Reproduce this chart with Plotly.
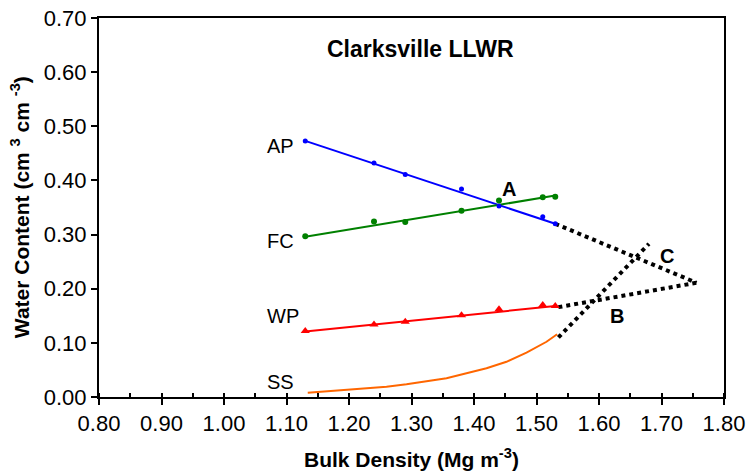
import plotly.graph_objects as go

# Bulk density of the measured samples
bd = [1.13, 1.24, 1.29, 1.38, 1.44, 1.51, 1.53]
ap_pts = [0.473, 0.432, 0.411, 0.384, 0.353, 0.333, 0.320]
fc_pts = [0.297, 0.324, 0.323, 0.344, 0.363, 0.369, 0.370]
wp_pts = [0.122, 0.134, 0.139, 0.151, 0.162, 0.170, 0.168]

# fitted lines (end points)
fit_x = [1.13, 1.53]
ap_fit = [0.473, 0.320]
fc_fit = [0.296, 0.372]
wp_fit = [0.121, 0.168]

# SS curve
ss_x = [1.134, 1.190, 1.228, 1.260, 1.292, 1.324, 1.356, 1.388, 1.420, 1.452, 1.484, 1.516, 1.533]
ss_y = [0.008, 0.013, 0.016, 0.019, 0.0235, 0.0296, 0.0345, 0.0438, 0.053, 0.065, 0.082, 0.102, 0.116]

# dotted extrapolations
ap_ext_x = [1.53, 1.756]
ap_ext_y = [0.320, 0.211]
wp_ext_x = [1.535, 1.756]
wp_ext_y = [0.166, 0.211]
ss_ext_x = [1.535, 1.680]
ss_ext_y = [0.110, 0.283]

# labels
series_labels = ["AP", "FC", "WP", "SS"]
series_label_y = [0.464, 0.289, 0.150, 0.028]
series_label_x = 1.066
point_labels = ["A", "B", "C"]
point_label_x = [1.456, 1.628, 1.709]
point_label_y = [0.385, 0.149, 0.260]

x_ticks = [0.80, 0.90, 1.00, 1.10, 1.20, 1.30, 1.40, 1.50, 1.60, 1.70, 1.80]
y_ticks = [0.00, 0.10, 0.20, 0.30, 0.40, 0.50, 0.60, 0.70]

FONT = "Liberation Sans, Arial, sans-serif"

fig = go.Figure()

# dotted extensions
for ex, ey in [(ap_ext_x, ap_ext_y), (wp_ext_x, wp_ext_y), (ss_ext_x, ss_ext_y)]:
    fig.add_trace(go.Scatter(x=ex, y=ey, mode="lines",
                             line=dict(color="black", width=4, dash="dot"),
                             showlegend=False, hoverinfo="skip"))

# SS curve
fig.add_trace(go.Scatter(x=ss_x, y=ss_y, mode="lines",
                         line=dict(color="#FF6600", width=2), showlegend=False))

# fitted lines
fig.add_trace(go.Scatter(x=fit_x, y=ap_fit, mode="lines", line=dict(color="#0000FF", width=2), showlegend=False))
fig.add_trace(go.Scatter(x=fit_x, y=fc_fit, mode="lines", line=dict(color="#008000", width=2), showlegend=False))
fig.add_trace(go.Scatter(x=fit_x, y=wp_fit, mode="lines", line=dict(color="#FF0000", width=2), showlegend=False))

# points
fig.add_trace(go.Scatter(x=bd, y=ap_pts, mode="markers",
                         marker=dict(color="#0000FF", size=5, symbol="circle"), showlegend=False))
fig.add_trace(go.Scatter(x=bd, y=fc_pts, mode="markers",
                         marker=dict(color="#008000", size=6, symbol="circle"), showlegend=False))
fig.add_trace(go.Scatter(x=bd, y=wp_pts, mode="markers",
                         marker=dict(color="#FF0000", size=8, symbol="triangle-up"), showlegend=False))

annotations = []
for lab, yy in zip(series_labels, series_label_y):
    annotations.append(dict(x=series_label_x, y=yy, text=lab, showarrow=False,
                            xanchor="left", yanchor="middle",
                            font=dict(family=FONT, size=20, color="black")))
for lab, xx, yy in zip(point_labels, point_label_x, point_label_y):
    annotations.append(dict(x=xx, y=yy, text="<b>" + lab + "</b>", showarrow=False,
                            xanchor="center", yanchor="middle",
                            font=dict(family=FONT, size=20, color="black")))
annotations.append(dict(x=1.315, y=0.643, text="<b>Clarksville LLWR</b>", showarrow=False,
                        xanchor="center", yanchor="middle",
                        font=dict(family=FONT, size=23, color="black")))
# axis titles
annotations.append(dict(xref="paper", yref="paper", x=0.5, y=-0.161,
                        text="<b>Bulk Density (Mg m<sup>-3</sup>)</b>", showarrow=False,
                        xanchor="center", yanchor="middle",
                        font=dict(family=FONT, size=21, color="black")))
annotations.append(dict(xref="paper", yref="paper", x=-0.127, y=0.5, textangle=-90,
                        text="<b>Water Content (cm <sup>3</sup> cm <sup>-3</sup>)</b>", showarrow=False,
                        xanchor="center", yanchor="middle",
                        font=dict(family=FONT, size=21, color="black")))

fig.update_layout(
    width=751, height=474,
    margin=dict(l=99, r=27, t=18, b=77, autoexpand=False),
    paper_bgcolor="white", plot_bgcolor="white",
    font=dict(family=FONT, size=20, color="black"),
    annotations=annotations,
)
fig.update_xaxes(
    range=[0.80, 1.80], tickvals=x_ticks, tickformat=".2f",
    showgrid=False, zeroline=False, automargin=False,
    showline=True, linecolor="black", linewidth=2, mirror=True,
    ticks="outside", ticklen=6, tickwidth=1.5, tickcolor="black",
    tickfont=dict(family=FONT, size=22),
    minor=dict(dtick=0.05, ticks="inside", ticklen=4, tickwidth=1.5, tickcolor="black", showgrid=False),
)
fig.update_yaxes(
    range=[0.0, 0.70], tickvals=y_ticks, tickformat=".2f",
    showgrid=False, zeroline=False, automargin=False,
    showline=True, linecolor="black", linewidth=2, mirror=True,
    ticks="outside", ticklen=6, tickwidth=1.5, tickcolor="black",
    tickfont=dict(family=FONT, size=22),
)

fig.write_html("out.html")
